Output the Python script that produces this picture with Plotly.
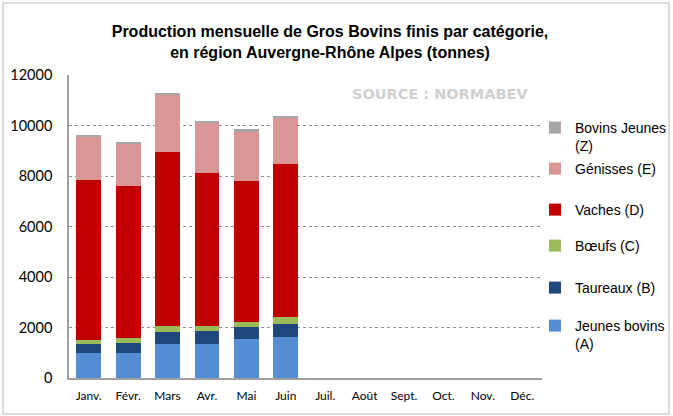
import plotly.graph_objects as go

months = ["Janv.", "Févr.", "Mars", "Avr.", "Mai", "Juin", "Juil.", "Août", "Sept.", "Oct.", "Nov.", "Déc."]
jeunes_bovins = [985, 1000, 1345, 1355, 1540, 1620, None, None, None, None, None, None]
taureaux = [360, 380, 475, 495, 470, 530, None, None, None, None, None, None]
boeufs = [170, 200, 250, 200, 200, 280, None, None, None, None, None, None]
vaches = [6335, 6015, 6895, 6080, 5600, 6055, None, None, None, None, None, None]
genisses = [1690, 1675, 2230, 1980, 1970, 1835, None, None, None, None, None, None]
bovins_jeunes_z = [80, 80, 95, 80, 65, 65, None, None, None, None, None, None]
y_ticks = [0, 2000, 4000, 6000, 8000, 10000, 12000]

series = [
    ("Jeunes bovins<br>(A)", jeunes_bovins, "#558ED5", "legend6"),
    ("Taureaux (B)", taureaux, "#1F497D", "legend5"),
    ("Bœufs (C)", boeufs, "#9BBB59", "legend4"),
    ("Vaches (D)", vaches, "#C00000", "legend3"),
    ("Génisses (E)", genisses, "#DA9694", "legend2"),
    ("Bovins Jeunes<br>(Z)", bovins_jeunes_z, "#A6A6A6", "legend"),
]

fig = go.Figure()
for name, vals, color, lg in series:
    fig.add_trace(go.Bar(x=months, y=vals, name=name, marker=dict(color=color, line=dict(width=0)),
                         legend=lg))

W, H = 673, 416
L, R, T, B = 69, 131, 75, 38
pw, ph = W - L - R, H - T - B

def px2x(px):
    return (px - L) / pw

def px2y(py):
    return (H - B - py) / ph

legend_font = dict(family="Liberation Sans, Arial", size=14, color="#000000")
leg_common = dict(font=legend_font, bgcolor="rgba(0,0,0,0)", xanchor="left", yanchor="top",
                  xref="container", yref="container",
                  itemwidth=30, valign="top", tracegroupgap=0)
legend_tops = {"legend": 112, "legend2": 153, "legend3": 194, "legend4": 230, "legend5": 272, "legend6": 310}
layout_legends = {}
for k, ytop in legend_tops.items():
    layout_legends[k] = dict(leg_common, x=535 / W, y=1 - ytop / H)

fig.update_layout(
    width=W, height=H,
    margin=dict(l=L, r=R, t=T, b=B, autoexpand=False),
    barmode="stack",
    bargap=0.37,
    plot_bgcolor="white",
    paper_bgcolor="white",
    showlegend=True,
    title=dict(
        text="<b>Production mensuelle de Gros Bovins finis par catégorie,<br>en région Auvergne-Rhône Alpes (tonnes)</b>",
        x=330 / W, xanchor="center", y=1 - 37 / H, yanchor="top",
        font=dict(family="Liberation Sans, Arial", size=16, color="#000000"),
    ),
    xaxis=dict(
        showline=True, linecolor="#A0A0A0", linewidth=1.5, ticks="",
        tickfont=dict(family="Lato, Calibri", size=12, color="#000000"),
        showgrid=False, ticklabelstandoff=6, automargin=False,
    ),
    yaxis=dict(
        range=[0, 12000], tickvals=y_ticks, tickformat="d", showline=True, linecolor="#A0A0A0", linewidth=1.5,
        showgrid=True, gridcolor="#909090", griddash="dot", gridwidth=1,
        tickfont=dict(family="Lato, Calibri", size=14.5, color="#000000"),
        ticks="", zeroline=False, ticklabelstandoff=12, automargin=False,
    ),
    annotations=[
        dict(text="<b>SOURCE : NORMABEV</b>", xref="paper", yref="paper",
             x=px2x(440), y=px2y(94), xanchor="center", yanchor="middle", showarrow=False,
             font=dict(family="DejaVu Sans", size=14.5, color="#CFCFCF")),
    ],
    shapes=[
        dict(type="rect", xref="paper", yref="paper",
             x0=px2x(3), x1=px2x(669), y0=px2y(414), y1=px2y(3),
             line=dict(color="#D0D0D0", width=1.5), fillcolor="rgba(0,0,0,0)", layer="below"),
    ],
    **layout_legends,
)

fig.write_html("out.html", config={"displayModeBar": False},
               post_script="document.body.style.margin='0';")
